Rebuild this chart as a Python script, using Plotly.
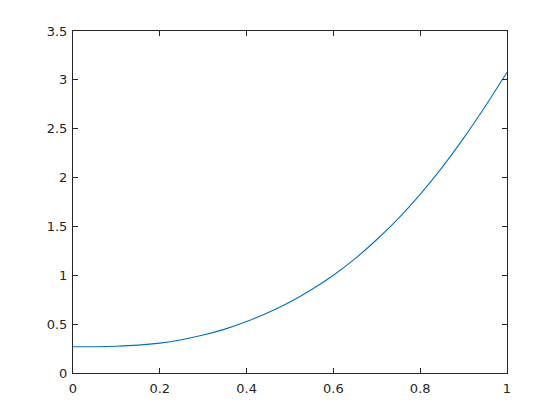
import plotly.graph_objects as go

# values
x_vals = [0.0, 0.05, 0.1, 0.15, 0.2, 0.25, 0.3, 0.35, 0.4, 0.45, 0.5,
          0.55, 0.6, 0.65, 0.7, 0.75, 0.8, 0.85, 0.9, 0.95, 1.0]
y_vals = [0.268, 0.269, 0.274, 0.285, 0.306, 0.341, 0.388, 0.449, 0.527, 0.619, 0.726,
          0.854, 1.000, 1.170, 1.366, 1.583, 1.828, 2.102, 2.404, 2.730, 3.078]

x_ticks = [0, 0.2, 0.4, 0.6, 0.8, 1]
x_labels = ["0", "0.2", "0.4", "0.6", "0.8", "1"]
y_ticks = [0, 0.5, 1, 1.5, 2, 2.5, 3, 3.5]
y_labels = ["0", "0.5", "1", "1.5", "2", "2.5", "3", "3.5"]

fig = go.Figure()
fig.add_trace(go.Scatter(
    x=x_vals,
    y=y_vals,
    mode="lines",
    line=dict(color="#0072bd", width=1.1, shape="spline", smoothing=0.5),
    showlegend=False,
))

axis_style = dict(
    showline=True,
    linecolor="#262626",
    linewidth=1,
    mirror="ticks",
    ticks="inside",
    ticklen=5,
    tickcolor="#262626",
    showgrid=False,
    zeroline=False,
    tickfont=dict(size=13, color="#262626", family="DejaVu Sans"),
)

# page body adds 8px, so margins are shifted to land the box where the reference has it
fig.update_layout(
    width=560,
    height=420,
    paper_bgcolor="white",
    plot_bgcolor="white",
    margin=dict(l=65, r=61, t=23, b=55),
    xaxis=dict(range=[0, 1], tickvals=x_ticks, ticktext=x_labels,
               ticklabelstandoff=3, **axis_style),
    yaxis=dict(range=[0, 3.5], tickvals=y_ticks, ticktext=y_labels,
               ticklabelstandoff=2, **axis_style),
)

fig.write_html("out.html")
